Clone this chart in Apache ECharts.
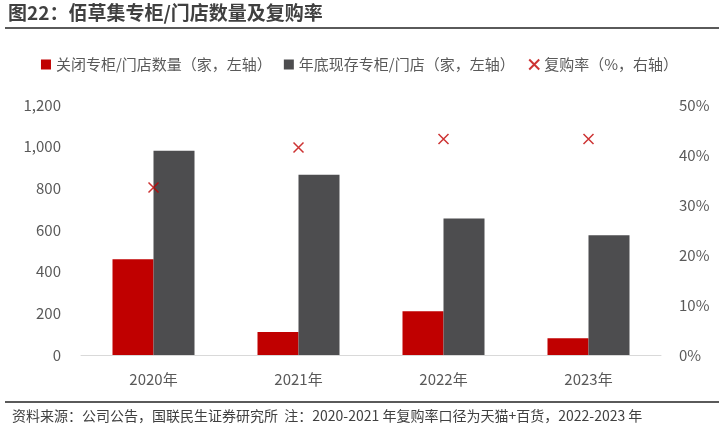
<!DOCTYPE html>
<html>
<head>
<meta charset="utf-8">
<script src="https://cdn.jsdelivr.net/npm/echarts@6/dist/echarts.min.js"></script>
<style>
  body { margin: 0; background: #fff; }
  #main { width: 719px; height: 443px; }
</style>
</head>
<body>
<div id="main"></div>
<script>
var years = ['2020年', '2021年', '2022年', '2023年'];
var closedStores = [460, 110, 210, 80];
var openStores = [980, 865, 655, 575];
var repurchase = [33.5, 41.5, 43.2, 43.2];

var font = '"Noto Sans CJK SC", "Noto Sans", sans-serif';
var myChart = echarts.init(document.getElementById('main'));

var option = {
    textStyle: { fontFamily: font },
    graphic: [
        { type: 'text', left: 8, top: 3, style: { text: '图22：佰草集专柜/门店数量及复购率', font: 'bold 19px ' + font, fill: '#404040' } },
        { type: 'rect', shape: { x: 5, y: 27, width: 714, height: 2 }, style: { fill: '#5a5a5a' } },
        { type: 'rect', shape: { x: 5, y: 401, width: 714, height: 2 }, style: { fill: '#5a5a5a' } },
        { type: 'text', left: 12, top: 409, style: { text: '资料来源：公司公告，国联民生证券研究所  注：2020-2021 年复购率口径为天猫+百货，2022-2023 年', font: '14px ' + font, fill: '#404040' } }
    ],
    legend: {
        top: 52, left: 'center', itemGap: 12, itemWidth: 10, itemHeight: 10,
        textStyle: { fontSize: 15, color: '#595959', fontFamily: font },
        data: [
            { name: '关闭专柜/门店数量（家，左轴）', icon: 'rect' },
            { name: '年底现存专柜/门店（家，左轴）', icon: 'rect' },
            { name: '复购率（%，右轴）' }
        ]
    },
    grid: { left: 81, right: 58, top: 105, bottom: 88 },
    xAxis: {
        type: 'category', data: years,
        axisLine: { lineStyle: { color: '#d9d9d9' } },
        axisTick: { show: false },
        axisLabel: { fontSize: 15, color: '#595959', margin: 17 }
    },
    yAxis: [
        {
            type: 'value', min: 0, max: 1200, interval: 200,
            splitLine: { show: false },
            axisLabel: { fontSize: 15, color: '#595959', margin: 20,
                formatter: function (v) { return v.toLocaleString('en-US'); } }
        },
        {
            type: 'value', min: 0, max: 50, interval: 10,
            splitLine: { show: false },
            axisLabel: { fontSize: 15, color: '#595959', margin: 18, formatter: '{value}%' }
        }
    ],
    series: [
        { name: '关闭专柜/门店数量（家，左轴）', type: 'bar', data: closedStores, barWidth: 41, barGap: '0%', itemStyle: { color: '#c00000' } },
        { name: '年底现存专柜/门店（家，左轴）', type: 'bar', data: openStores, barWidth: 41, itemStyle: { color: '#4d4d4f' } },
        {
            name: '复购率（%，右轴）', type: 'scatter', yAxisIndex: 1, data: repurchase,
            symbol: 'path://M0,0L10,10M10,0L0,10', symbolSize: 10,
            itemStyle: { color: 'none', borderColor: '#c00000', borderWidth: 1.5 }
        }
    ]
};
myChart.setOption(option);
</script>
</body>
</html>
